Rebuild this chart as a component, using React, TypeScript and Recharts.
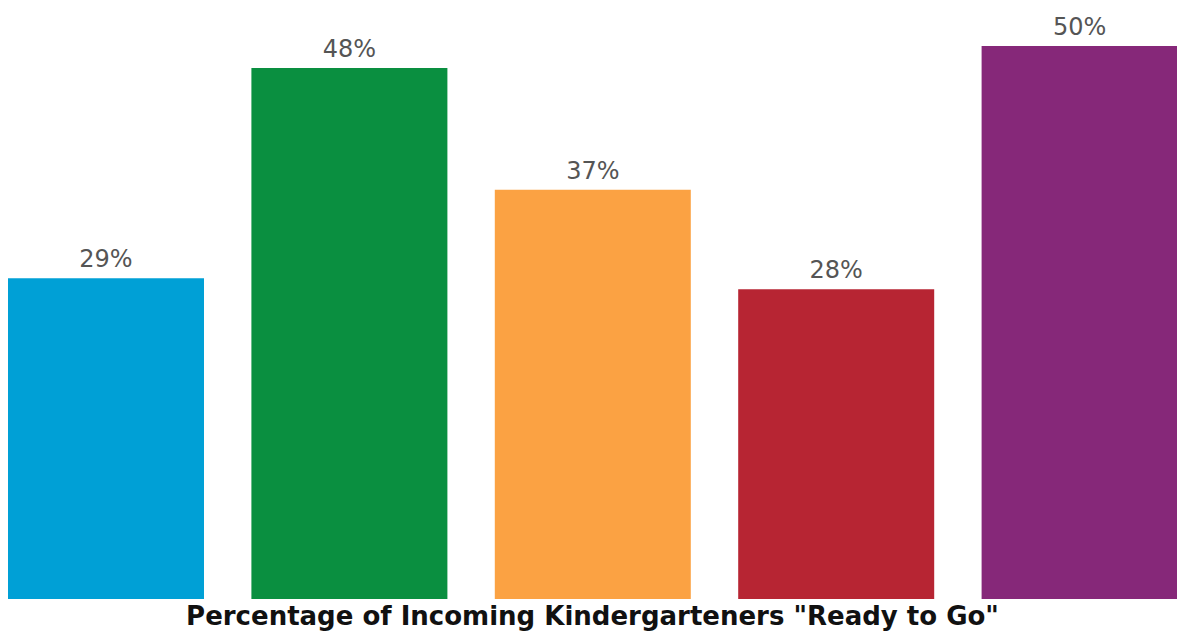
import React from "react";
import { BarChart, Bar, XAxis, YAxis, Cell, LabelList } from "recharts";

const categories = ["A", "B", "C", "D", "E"];
const readyValues = [29, 48, 37, 28, 50];
const barColors = ["#00A0D6", "#0A8F40", "#FBA243", "#B72533", "#862879"];

const data = categories.map((name, i) => ({ name, value: readyValues[i] }));

const TITLE = 'Percentage of Incoming Kindergarteners "Ready to Go"';

export default function App() {
  return (
    <div style={{ position: "absolute", left: 0, top: 0, background: "#fff" }}>
      <BarChart
        width={1177}
        height={633}
        data={data}
        margin={{ top: 46, right: -24, left: -16, bottom: 0 }}
      >
        <XAxis
          dataKey="name"
          tick={false}
          tickLine={false}
          axisLine={false}
          height={34}
          label={{
            value: TITLE,
            position: "center",
            style: {
              fontFamily: "'DejaVu Sans', sans-serif",
              fontWeight: 700,
              fontSize: 26,
              fill: "#111",
            },
          }}
        />
        <YAxis hide domain={[0, 50]} />
        <Bar dataKey="value" barSize={196} isAnimationActive={false}>
          {data.map((_, i) => (
            <Cell key={`cell-${i}`} fill={barColors[i]} />
          ))}
          <LabelList
            dataKey="value"
            position="top"
            offset={11}
            formatter={(v: number) => `${v}%`}
            style={{
              fontFamily: "'DejaVu Sans', sans-serif",
              fontSize: 24,
              fill: "#555",
            }}
          />
        </Bar>
      </BarChart>
    </div>
  );
}
